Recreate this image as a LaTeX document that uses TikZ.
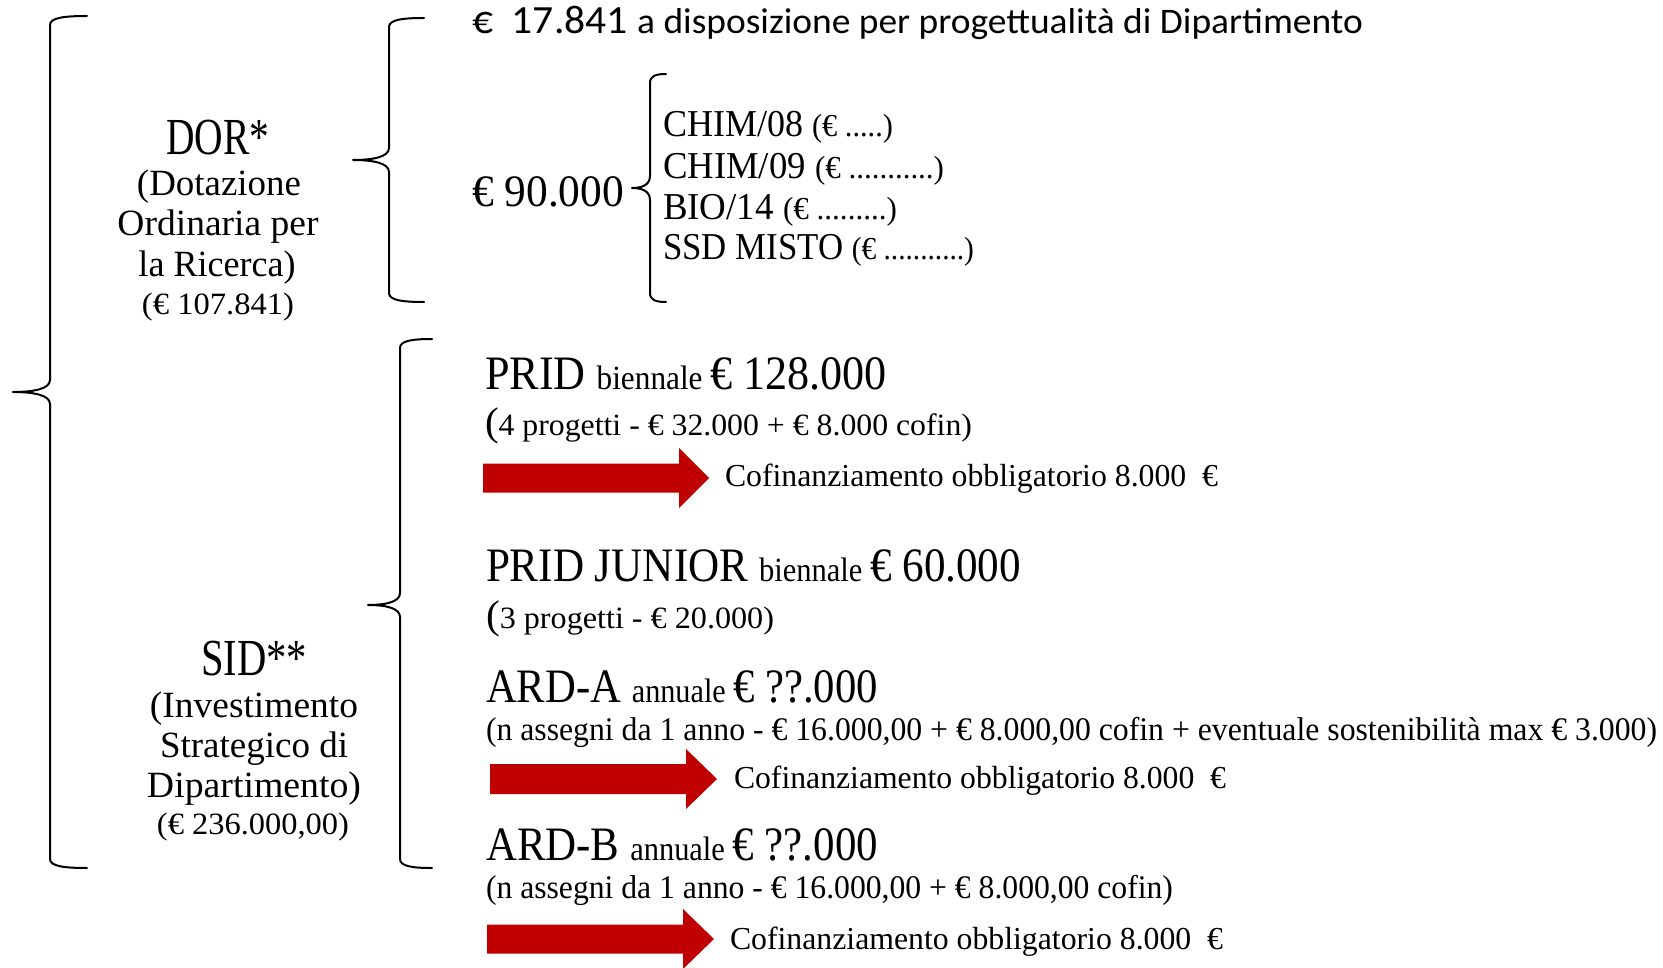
\documentclass[tikz,border=0pt]{standalone}
\usepackage{fontspec}
\usepackage{graphicx}
\setmainfont{Liberation Serif}
\newfontfamily\calib{Carlito}
\definecolor{arrowred}{RGB}{192,0,0}
\newcommand\fs[1]{\fontsize{#1}{#1}\selectfont}
\newcommand\fitw[2]{\resizebox{#1pt}{\height}{#2}}
\newcommand\curlybrace[6]{%
\draw[bracestyle] (#6,#3) .. controls ({#1+0.35*(#6-#1)},#3) and (#1,{#3+2}) .. (#1,{#3+9})
 -- (#1,{#4-12}) .. controls (#1,{#4-3}) and ({#1-0.45*(#1-#2)},#4) .. (#2,#4)
 .. controls ({#1-0.45*(#1-#2)},#4) and (#1,{#4+3}) .. (#1,{#4+12})
 -- (#1,{#5-9}) .. controls (#1,{#5-2}) and ({#1+0.35*(#6-#1)},#5) .. (#6,#5);}
\newcommand\redarrow[6]{% #1 x0, #2 xbase, #3 xtip, #4 ymid, #5 body half, #6 head half
\fill[arrowred] (#1,{#4-#5}) -- (#2,{#4-#5}) -- (#2,{#4-#6}) -- (#3,#4) -- (#2,{#4+#6}) -- (#2,{#4+#5}) -- (#1,{#4+#5}) -- cycle;}
\begin{document}
\begin{tikzpicture}[x=1pt,y=-1pt,
  txt/.style={inner sep=0pt,outer sep=0pt,anchor=base west},
  txtc/.style={inner sep=0pt,outer sep=0pt,anchor=base},
  bracestyle/.style={line width=2pt,line cap=round,line join=round}]
\useasboundingbox (0,0) rectangle (1663,968);
% braces
\curlybrace{50}{13}{16}{392}{868}{87}
\curlybrace{389}{353}{18}{160}{302}{424}
\curlybrace{650}{632}{74}{188}{302}{666}
\curlybrace{400}{368}{339}{605}{868}{432}
% arrows
\redarrow{483}{679}{709}{478}{14.5}{30}
\redarrow{490}{686}{717}{779}{15}{30}
\redarrow{487}{683}{714}{939}{14.5}{30}
% DOR group
\node[txtc] (dor) at (218,155) {\fitw{103}{\fs{52}DOR*}};
\node[txtc] (dor1) at (219,196) {\fitw{164}{\fs{37}(Dotazione}};
\node[txtc] (dor2) at (218,236) {\fitw{201}{\fs{37}Ordinaria per}};
\node[txtc] (dor3) at (217,277) {\fitw{157}{\fs{37}la Ricerca)}};
\node[txtc] (dor4) at (218,315) {\fitw{152}{\fs{31}(€ 107.841)}};
% SID group
\node[txtc] (sid) at (254,675) {\fitw{106}{\fs{52}SID**}};
\node[txtc] (sid1) at (254,717) {\fitw{208}{\fs{37}(Investimento}};
\node[txtc] (sid2) at (254,757) {\fitw{188}{\fs{37}Strategico di}};
\node[txtc] (sid3) at (254,797) {\fitw{214}{\fs{37}Dipartimento)}};
\node[txtc] (sid4) at (253,834) {\fitw{192}{\fs{31}(€ 236.000,00)}};
% DOR details
\node[txt] (l17) at (472,34) {\fitw{891}{\calib\fs{40}€\ \ 17.841 \fs{36}a disposizione per progettualità di Dipartimento}};
\node[txt] (l90) at (472,207) {\fitw{152}{\fs{45}€ 90.000}};
\node[txt] (chim8) at (663,137) {\fitw{230}{\fs{38}CHIM/08 \fs{32}(€ .....)}};
\node[txt] (chim9) at (663,179) {\fitw{281}{\fs{38}CHIM/09 \fs{32}(€ ...........)}};
\node[txt] (bio) at (663,220) {\fitw{234}{\fs{38}BIO/14 \fs{32}(€ .........)}};
\node[txt] (ssd) at (663,260) {\fitw{311}{\fs{38}SSD MISTO \fs{32}(€ ...........)}};
% SID details
\node[txt] (prid) at (485,389) {\fitw{402}{\fs{48}PRID \fs{34}biennale \fs{48}€ 128.000}};
\node[txt] (prid2) at (485,435) {\fitw{487}{\fs{40}(\fs{31}4 progetti - € 32.000 + € 8.000 cofin)}};
\node[txt] (cof1) at (725,486) {\fitw{493}{\fs{32}Cofinanziamento obbligatorio 8.000\ \ €}};
\node[txt] (pj) at (486,581) {\fitw{535}{\fs{48}PRID JUNIOR \fs{34}biennale \fs{48}€ 60.000}};
\node[txt] (pj2) at (486,628) {\fitw{288}{\fs{40}(\fs{31}3 progetti - € 20.000)}};
\node[txt] (arda) at (486,702) {\fitw{392}{\fs{48}ARD-A \fs{34}annuale \fs{48}€ ??.000}};
\node[txt] (arda2) at (486,740) {\fitw{1171}{\fs{33}(n assegni da 1 anno - € 16.000,00 + € 8.000,00 cofin + eventuale sostenibilità max € 3.000)}};
\node[txt] (cof2) at (734,788) {\fitw{492}{\fs{32}Cofinanziamento obbligatorio 8.000\ \ €}};
\node[txt] (ardb) at (486,860) {\fitw{392}{\fs{48}ARD-B \fs{34}annuale \fs{48}€ ??.000}};
\node[txt] (ardb2) at (486,898) {\fitw{687}{\fs{33}(n assegni da 1 anno - € 16.000,00 + € 8.000,00 cofin)}};
\node[txt] (cof3) at (730,949) {\fitw{493}{\fs{32}Cofinanziamento obbligatorio 8.000\ \ €}};
\end{tikzpicture}
\end{document}
